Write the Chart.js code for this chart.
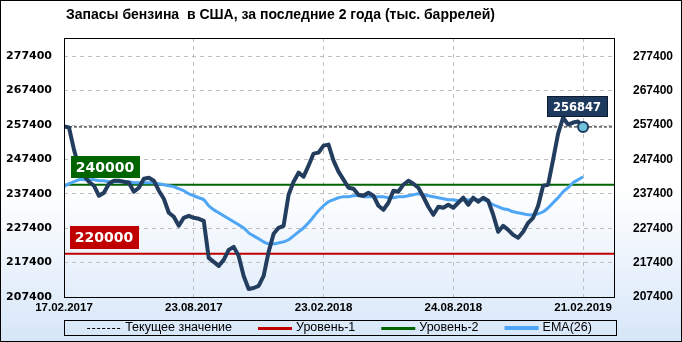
<!DOCTYPE html>
<html>
<head>
<meta charset="utf-8">
<script src="https://cdn.jsdelivr.net/npm/chart.js@4.4.0/dist/chart.umd.min.js"></script>
<style>
  html, body { margin: 0; padding: 0; background: #fff; }
  canvas { display: block; }
</style>
</head>
<body>
<canvas id="stockChart" width="682" height="342"></canvas>
<script>
// недельные запасы бензина, тыс. баррелей (17.02.2017 - 22.02.2019)
const stocks = [
  256950, 256660, 250250, 245000, 242670, 240920, 239760, 236840, 237720, 240340,
  241210, 241210, 240920, 240630, 238010, 239170, 241800, 242090, 241210, 238300,
  235970, 231890, 230720, 228100, 230430, 231010, 230430, 230140, 229550, 218770,
  217600, 216440, 218190, 221100, 221980, 219350, 213520, 209730, 210020, 210610,
  213520, 220520, 225770, 227510, 228100, 237130, 240920, 243550, 242380, 245590,
  249090, 249380, 251420, 251710, 247050, 243840, 241510, 239170, 238880, 237130,
  236840, 237720, 236840, 233930, 232760, 234800, 238300, 238010, 240050, 241210,
  240340, 239170, 236550, 233640, 231300, 233640, 233340, 234220, 233340, 234800,
  236260, 234220, 236260, 235090, 236260, 235380, 231300, 226350, 228100, 226930,
  225470, 224600, 226350, 228970, 230430, 233930, 239760, 240050, 247340, 254920,
  259580, 257540, 258120, 258410, 256847
];
const ema26 = [
  239470, 240340, 240920, 241510, 241510, 241510, 241510, 241210, 241210, 240920,
  240920, 240920, 240920, 240920, 240630, 240630, 240630, 240630, 240630, 240340,
  240050, 239760, 239470, 238880, 238300, 237420, 236840, 236260, 235680, 233930,
  232760, 231890, 231010, 230140, 229260, 228390, 227510, 226060, 225180, 224310,
  223430, 222850, 222850, 223140, 223430, 224020, 225180, 226350, 227510, 228970,
  230720, 232470, 233930, 235090, 235680, 236260, 236550, 236550, 236840, 236840,
  236550, 236550, 236550, 236550, 236550, 236260, 236260, 236550, 236550, 236840,
  237130, 237420, 237130, 236840, 236550, 236260, 235970, 235680, 235680, 235380,
  235680, 235680, 235680, 235680, 235680, 235090, 234220, 233640, 233050, 232760,
  232180, 231890, 231600, 231300, 231300, 231600, 232180, 233340, 234800, 236260,
  238010, 239170, 240630, 241510, 242380
];
const level1 = 220000;
const level2 = 240000;
const currentValue = 256847;

const yTicks = [207400, 217400, 227400, 237400, 247400, 257400, 267400, 277400];
const xTickPos = [0, 26, 52, 78, 104];
const xTickLabels = ['17.02.2017', '23.08.2017', '23.02.2018', '24.08.2018', '21.02.2019'];

const yMin = 207400, yMax = 282700;
const xMax = 110.4;

const NAVY = '#233d5e';
const BLUE = '#4ea6f5';
const RED = '#c00000';
const GREEN = '#006400';

const toPoints = arr => arr.map((v, i) => ({ x: i, y: v }));
const flat = v => [{ x: 0, y: v }, { x: xMax, y: v }];

const gridOpts = { color: '#c0c0c0', drawTicks: false };
const borderOpts = { display: false, dash: [4, 4] };

// фон, подписи уровней, заголовок, легенда и рамки
const decorPlugin = {
    id: 'decor',
    beforeDraw(chart) {
        const { ctx, width, height } = chart;
        const g = ctx.createLinearGradient(0, 0, 0, height);
        g.addColorStop(0, '#ffffff');
        g.addColorStop(0.55, '#ffffff');
        g.addColorStop(1, '#d6e6f8');
        ctx.save();
        ctx.fillStyle = g;
        ctx.fillRect(0, 0, width, height);
        ctx.restore();
    },
    afterDatasetsDraw(chart) {
        const { ctx, chartArea } = chart;
        const y = chart.scales.y;
        const x = chart.scales.x;

        const tag = (text, cx, cy, w, h, fill, font, stroke) => {
            ctx.save();
            ctx.fillStyle = fill;
            ctx.fillRect(Math.round(cx - w / 2), Math.round(cy - h / 2), w, h);
            if (stroke) {
                ctx.strokeStyle = stroke;
                ctx.lineWidth = 1;
                ctx.strokeRect(Math.round(cx - w / 2) + 0.5, Math.round(cy - h / 2) + 0.5, w - 1, h - 1);
            }
            ctx.fillStyle = '#fff';
            ctx.font = font;
            ctx.textAlign = 'center';
            ctx.textBaseline = 'middle';
            ctx.fillText(text, cx, cy + 1);
            ctx.restore();
        };

        tag(String(level2), chartArea.left + 41, y.getPixelForValue(level2) - 18, 69, 22, GREEN, 'bold 14px "DejaVu Sans"');
        tag(String(level1), chartArea.left + 40, y.getPixelForValue(level1) - 16, 69, 23, RED, 'bold 14px "DejaVu Sans"');

        const last = stocks.length - 1;
        tag(String(currentValue), x.getPixelForValue(last) - 6, y.getPixelForValue(currentValue) - 20, 61, 21,
            '#1d3a5e', 'bold 11.5px "DejaVu Sans"', '#0b1a2e');
    },
    afterDraw(chart) {
        const { ctx, chartArea, width, height } = chart;
        ctx.save();

        // рамка области графика
        ctx.strokeStyle = '#000';
        ctx.lineWidth = 1;
        ctx.strokeRect(chartArea.left + 0.5, chartArea.top + 0.5,
            chartArea.right - chartArea.left - 1, chartArea.bottom - chartArea.top);

        // заголовок
        ctx.fillStyle = '#000';
        ctx.font = 'bold 14px "Liberation Sans"';
        ctx.textAlign = 'left';
        ctx.textBaseline = 'middle';
        ctx.fillText('Запасы бензина  в США, за последние 2 года (тыс. баррелей)', 66, 15);

        // легенда
        const boxTop = 320, boxH = 15;
        ctx.strokeRect(chartArea.left + 0.5, boxTop + 0.5, chartArea.right - chartArea.left + 1, boxH);

        ctx.font = '12.5px "Liberation Sans"';
        const items = chart.data.datasets.filter(d => d.inLegend);
        const sample = 34, gap = 4, between = 26;
        const widths = items.map(d => sample + gap + ctx.measureText(d.label).width);
        const total = widths.reduce((a, b) => a + b, 0) + between * (items.length - 1);
        let px = (chartArea.left + chartArea.right) / 2 - total / 2;
        const cy = boxTop + boxH / 2 + 0.5;
        items.forEach((d, i) => {
            ctx.save();
            ctx.strokeStyle = d.borderColor;
            ctx.lineWidth = d.legendWidth;
            ctx.setLineDash(d.borderDash || []);
            ctx.beginPath();
            ctx.moveTo(px, Math.round(cy) + (d.legendWidth % 2 ? 0.5 : 0));
            ctx.lineTo(px + sample, Math.round(cy) + (d.legendWidth % 2 ? 0.5 : 0));
            ctx.stroke();
            ctx.restore();
            ctx.fillStyle = '#000';
            ctx.fillText(d.label, px + sample + gap, cy);
            px += widths[i] + between;
        });

        // внешняя рамка
        ctx.strokeStyle = '#000';
        ctx.strokeRect(0.5, 0.5, width - 1, height - 1);
        ctx.restore();
    }
};

const ctx = document.getElementById('stockChart').getContext('2d');
new Chart(ctx, {
    type: 'line',
    data: {
        datasets: [
            {
                label: 'Запасы бензина',
                data: toPoints(stocks),
                borderColor: NAVY,
                borderWidth: 4,
                borderJoinStyle: 'round',
                borderCapStyle: 'round',
                tension: 0,
                pointRadius: c => (c.dataIndex === stocks.length - 1 ? 5 : 0),
                pointBackgroundColor: '#72c4dc',
                pointBorderColor: '#1d3a5e',
                pointBorderWidth: 2,
                order: 0
            },
            {
                label: 'Текущее значение',
                data: flat(currentValue),
                borderColor: '#000',
                borderWidth: 1,
                borderDash: [3, 2],
                pointRadius: 0,
                inLegend: true,
                legendWidth: 1,
                order: 4
            },
            {
                label: 'Уровень-1',
                data: flat(level1),
                borderColor: RED,
                borderWidth: 2,
                pointRadius: 0,
                inLegend: true,
                legendWidth: 3,
                order: 3
            },
            {
                label: 'Уровень-2',
                data: flat(level2),
                borderColor: GREEN,
                borderWidth: 2,
                pointRadius: 0,
                inLegend: true,
                legendWidth: 3,
                order: 2
            },
            {
                label: 'EMA(26)',
                data: toPoints(ema26),
                borderColor: BLUE,
                borderWidth: 3,
                tension: 0.3,
                pointRadius: 0,
                inLegend: true,
                legendWidth: 4,
                order: 1
            }
        ]
    },
    options: {
        responsive: false,
        animation: false,
        layout: { padding: { top: 38, left: 0, right: 0, bottom: 0 } },
        plugins: {
            legend: { display: false },
            tooltip: { enabled: false },
            title: { display: false }
        },
        scales: {
            x: {
                type: 'linear',
                min: 0,
                max: xMax,
                afterBuildTicks: s => { s.ticks = xTickPos.map(v => ({ value: v })); },
                afterFit: s => { s.height = 45; },
                ticks: {
                    callback: (v, i) => xTickLabels[i],
                    autoSkip: false,
                    maxRotation: 0,
                    padding: 4,
                    color: '#000',
                    font: { family: 'Liberation Sans', size: 11.5, weight: 'bold' }
                },
                grid: gridOpts,
                border: borderOpts
            },
            y: {
                position: 'left',
                min: yMin,
                max: yMax,
                afterBuildTicks: s => { s.ticks = yTicks.map(v => ({ value: v })); },
                afterFit: s => { s.width = 64; },
                ticks: {
                    callback: v => String(v),
                    padding: 12,
                    color: '#000',
                    font: { family: 'DejaVu Sans', size: 11, weight: 'bold' }
                },
                grid: gridOpts,
                border: borderOpts
            },
            y2: {
                position: 'right',
                min: yMin,
                max: yMax,
                afterBuildTicks: s => { s.ticks = yTicks.map(v => ({ value: v })); },
                afterFit: s => { s.width = 67; },
                ticks: {
                    callback: v => String(v),
                    padding: 18,
                    color: '#000',
                    font: { family: 'Liberation Sans', size: 12, weight: 'bold' }
                },
                grid: { drawOnChartArea: false, drawTicks: false },
                border: { display: false }
            }
        }
    },
    plugins: [decorPlugin]
});
</script>
</body>
</html>
